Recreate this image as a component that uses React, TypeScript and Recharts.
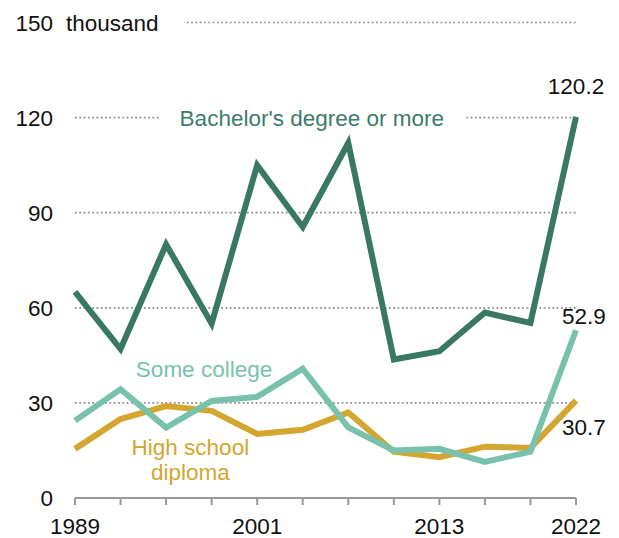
import React from 'react';
import { LineChart, Line, XAxis, YAxis, CartesianGrid, ReferenceDot } from 'recharts';

const years = [1989, 1992, 1995, 1998, 2001, 2004, 2007, 2010, 2013, 2016, 2019, 2022];
const bachelors = [65, 47, 80, 55, 105, 85.5, 112, 43.7, 46.3, 58.5, 55.2, 120.2];
const someCollege = [24.4, 34.3, 22.2, 30.6, 31.9, 40.8, 22.3, 15, 15.5, 11.4, 14.6, 52.9];
const highSchool = [15.5, 24.9, 29, 27.5, 20.2, 21.5, 27, 14.6, 12.9, 16.2, 15.8, 30.7];
const yTicks = [0, 30, 60, 90, 120, 150];
const xLabels = [1989, 2001, 2013, 2022];

const data = years.map((year, i) => ({
  year,
  bachelors: bachelors[i],
  someCollege: someCollege[i],
  highSchool: highSchool[i],
}));

const FONT = '"Liberation Sans", Arial, sans-serif';
const FS = 22.5;
const DARK = '#3a7866';
const TEAL = '#78c2ad';
const GOLD = '#d4a62f';
const last = years.length - 1;

const XTick = (props: any) => {
  const { x, y, payload } = props;
  if (!xLabels.includes(payload.value)) return <g />;
  return (
    <text x={x} y={y + 27} textAnchor="middle" fontFamily={FONT} fontSize={FS} fill="#111">
      {payload.value}
    </text>
  );
};

const YTick = (props: any) => {
  const { y, payload } = props;
  return (
    <g>
      {payload.value === 150 && <rect x={56} y={y - 6} width={128} height={12} fill="#fff" />}
      <text x={53} y={y} dy="0.36em" textAnchor="end" fontFamily={FONT} fontSize={FS} fill="#111">
        {payload.value}
      </text>
      {payload.value === 150 && (
        <text x={66} y={y} dy="0.36em" textAnchor="start" fontFamily={FONT} fontSize={FS} fill="#111">
          thousand
        </text>
      )}
    </g>
  );
};

const textShape = (text: string, color: string, dx: number, dy: number, anchor: string, bg?: number) => (p: any) => (
  <g>
    {bg ? <rect x={p.cx - bg / 2} y={p.cy - 8} width={bg} height={16} fill="#fff" /> : null}
    <text x={p.cx + dx} y={p.cy + dy} textAnchor={anchor} fontFamily={FONT} fontSize={FS} fill={color}>
      {text}
    </text>
  </g>
);

const hsShape = (p: any) => (
  <text x={p.cx} y={p.cy} textAnchor="middle" fontFamily={FONT} fontSize={FS} fill={GOLD}>
    <tspan x={p.cx} dy={0}>High school</tspan>
    <tspan x={p.cx} dy={25}>diploma</tspan>
  </text>
);

export default function App() {
  return (
    <div style={{ position: 'absolute', left: 0, top: 0, background: '#fff' }}>
      <LineChart width={619} height={538} data={data} margin={{ top: 22.5, right: 43, bottom: 0, left: 0 }}>
        <CartesianGrid
          vertical={false}
          horizontalValues={[30, 60, 90, 120, 150]}
          stroke="#8f8f8f"
          strokeWidth={1.7}
          strokeDasharray="1.8 2.5"
        />
        <XAxis
          type="number"
          dataKey="year"
          domain={[1989, 2022]}
          ticks={years}
          interval={0}
          tick={<XTick />}
          tickSize={7}
          tickLine={{ stroke: '#999', strokeWidth: 2 }}
          axisLine={{ stroke: '#999', strokeWidth: 2 }}
          height={40}
        />
        <YAxis
          domain={[0, 150]}
          ticks={yTicks}
          interval={0}
          width={75}
          axisLine={false}
          tickLine={false}
          tick={<YTick />}
        />
        <Line type="linear" dataKey="highSchool" stroke={GOLD} strokeWidth={6} dot={false} activeDot={false} isAnimationActive={false} />
        <Line type="linear" dataKey="someCollege" stroke={TEAL} strokeWidth={6} dot={false} activeDot={false} isAnimationActive={false} />
        <Line type="linear" dataKey="bachelors" stroke={DARK} strokeWidth={6} dot={false} activeDot={false} isAnimationActive={false} />
        <ReferenceDot x={2004.6} y={120} r={1} shape={textShape("Bachelor's degree or more", '#3d7b69', 0, 8, 'middle', 306)} />
        <ReferenceDot x={1997.5} y={40.7} r={1} shape={textShape('Some college', TEAL, 0, 8, 'middle')} />
        <ReferenceDot x={1996.6} y={13.7} r={1} shape={hsShape} />
        <ReferenceDot x={years[last]} y={bachelors[last]} r={1} shape={textShape(String(bachelors[last]), '#111', 0, -23, 'middle')} />
        <ReferenceDot x={years[last]} y={someCollege[last]} r={1} shape={textShape(String(someCollege[last]), '#111', -14, -6, 'start')} />
        <ReferenceDot x={years[last]} y={highSchool[last]} r={1} shape={textShape(String(highSchool[last]), '#111', -14, 34, 'start')} />
      </LineChart>
    </div>
  );
}
